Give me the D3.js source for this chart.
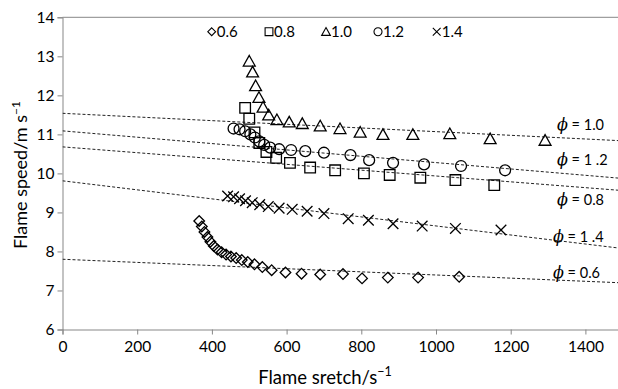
<!DOCTYPE html>
<html>
<head>
<meta charset="utf-8">
<script src="https://cdn.jsdelivr.net/npm/d3@7"></script>
<style>
  body { margin: 0; background: #fff; }
  text { font-family: Lato, "Open Sans", sans-serif; fill: #000; }
</style>
</head>
<body>
<script>
// equivalence ratios, one series each
const phi = ["0.6", "0.8", "1.0", "1.2", "1.4"]
const shapes = ["diamond", "square", "triangle", "circle", "cross"]

// flame stretch (1/s) and flame speed (m/s)
const stretch06 = [366, 373, 380, 388, 396, 405, 415, 426, 438, 451, 465, 480, 496, 514, 535, 560, 597, 640, 690, 751, 802, 871, 952, 1062]
const speed06 = [8.78, 8.64, 8.50, 8.37, 8.25, 8.14, 8.05, 7.98, 7.92, 7.87, 7.83, 7.78, 7.73, 7.67, 7.60, 7.52, 7.46, 7.43, 7.41, 7.42, 7.31, 7.33, 7.33, 7.35]

const stretch08 = [489, 500, 514, 527, 546, 572, 609, 663, 730, 807, 876, 958, 1052, 1156]
const speed08 = [11.68, 11.40, 11.05, 10.78, 10.55, 10.40, 10.27, 10.15, 10.08, 10.00, 9.96, 9.89, 9.83, 9.70]

const stretch10 = [500, 509, 517, 526, 537, 552, 574, 607, 642, 690, 743, 797, 858, 938, 1037, 1145, 1292]
const speed10 = [12.88, 12.60, 12.25, 11.95, 11.70, 11.50, 11.38, 11.32, 11.28, 11.22, 11.15, 11.06, 11.00, 11.00, 11.02, 10.89, 10.85]

const stretch12 = [458, 474, 489, 503, 515, 527, 540, 556, 580, 612, 650, 700, 771, 821, 885, 968, 1067, 1185]
const speed12 = [11.15, 11.13, 11.08, 11.00, 10.92, 10.82, 10.73, 10.66, 10.62, 10.60, 10.57, 10.53, 10.47, 10.34, 10.27, 10.23, 10.19, 10.08]

const stretch14 = [442, 458, 474, 490, 508, 528, 551, 580, 615, 655, 700, 765, 819, 885, 963, 1052, 1174]
const speed14 = [9.42, 9.40, 9.35, 9.30, 9.25, 9.20, 9.15, 9.11, 9.08, 9.03, 8.97, 8.84, 8.80, 8.71, 8.65, 8.59, 8.55]

// dashed linear fits: speed at stretch 0 and at stretch 1500
const trendStart = [7.80, 10.68, 11.54, 11.09, 9.81]
const trendEnd = [7.195, 9.56, 10.835, 9.87, 8.075]
const phiLabels = ["0.6", "0.8", "1.0", "1 .2", "1 .4"]

const xTicks = [0, 200, 400, 600, 800, 1000, 1200, 1400]
const yTicks = [6, 7, 8, 9, 10, 11, 12, 13, 14]

const stretch = [stretch06, stretch08, stretch10, stretch12, stretch14]
const speed = [speed06, speed08, speed10, speed12, speed14]

const width = 618
const height = 389
const margin = { left: 62.5, top: 17.3, bottom: 59.5 }
const axisColor = "#878787"

const x = d3.scaleLinear().domain([0, 1500]).range([margin.left, margin.left + 1500 * 0.3735])
const y = d3.scaleLinear().domain([6, 14]).range([height - margin.bottom, margin.top])

function marker(type, s) {
  switch (type) {
    case "diamond": return `M0,${-s}L${s},0L0,${s}L${-s},0Z`
    case "square": return `M${-s},${-s}H${s}V${s}H${-s}Z`
    case "triangle": return `M0,${-s * 1.05}L${s * 1.12},${s * 0.95}L${-s * 1.12},${s * 0.95}Z`
    case "circle": return d3.arc()({ innerRadius: 0, outerRadius: s * 1.03, startAngle: 0, endAngle: 2 * Math.PI })
    case "cross": return `M${-s},${-s}L${s},${s}M${s},${-s}L${-s},${s}`
  }
}

const svg = d3.select("body").append("svg")
  .attr("width", width)
  .attr("height", height)

svg.append("defs").append("clipPath").attr("id", "plot")
  .append("rect")
  .attr("x", x(0)).attr("y", y(14))
  .attr("width", x(1500) - x(0)).attr("height", y(6) - y(14))

// plot frame top edge
svg.append("line")
  .attr("x1", x(0)).attr("x2", width)
  .attr("y1", y(14)).attr("y2", y(14))
  .attr("stroke", axisColor)

const yAxis = svg.append("g")
  .attr("transform", `translate(${x(0)},0)`)
  .call(d3.axisLeft(y).tickValues(yTicks).tickSize(5).tickPadding(3))
yAxis.select(".domain").attr("stroke", axisColor)
yAxis.selectAll(".tick line").attr("stroke", axisColor)
yAxis.selectAll(".tick text").attr("font-size", 15.5).attr("font-family", "Lato").attr("fill", "#000")

const xAxis = svg.append("g")
  .attr("transform", `translate(0,${y(6)})`)
  .call(d3.axisBottom(x).tickValues(xTicks).tickFormat(d3.format("d")).tickSize(5).tickPadding(6))
xAxis.select(".domain").attr("stroke", axisColor)
xAxis.selectAll(".tick line").attr("stroke", axisColor)
xAxis.selectAll(".tick text").attr("font-size", 15.5).attr("font-family", "Lato").attr("fill", "#000")

// trend lines
const trendLine = d3.line().x(d => x(d[0])).y(d => y(d[1]))
svg.append("g").attr("clip-path", "url(#plot)")
  .selectAll("path")
  .data(phi.map((p, i) => [[0, trendStart[i]], [1500, trendEnd[i]]]))
  .join("path")
  .attr("d", trendLine)
  .attr("fill", "none")
  .attr("stroke", "#222")
  .attr("stroke-width", 1)
  .attr("stroke-dasharray", "3,2")

// markers
phi.forEach((p, i) => {
  svg.append("g")
    .selectAll("path")
    .data(stretch[i].map((s, j) => [s, speed[i][j]]))
    .join("path")
    .attr("transform", d => `translate(${x(d[0])},${y(d[1])})`)
    .attr("d", marker(shapes[i], 5.3))
    .attr("fill", "none")
    .attr("stroke", "#000")
    .attr("stroke-width", 1.3)
})

// legend
const legendX = [211.7, 269, 326, 378, 436.7]
const legend = svg.append("g").attr("transform", "translate(0,31.7)")
phi.forEach((p, i) => {
  legend.append("path")
    .attr("transform", `translate(${legendX[i]},0)`)
    .attr("d", marker(shapes[i], 3.9))
    .attr("fill", "none")
    .attr("stroke", "#000")
    .attr("stroke-width", 1.1)
  legend.append("text")
    .attr("x", legendX[i] + 5)
    .attr("y", 5.5)
    .attr("font-size", 15)
    .text(p)
})

// phi annotations next to the fits
const labelPos = [[553, 278], [557, 205], [557, 130], [557, 165], [553, 241.5]]
phi.forEach((p, i) => {
  const t = svg.append("text")
    .attr("x", labelPos[i][0])
    .attr("y", labelPos[i][1])
    .attr("font-size", 14.5)
  t.append("tspan")
    .attr("font-family", "DejaVu Serif")
    .attr("font-style", "italic")
    .attr("font-size", 16)
    .text("\u03d5")
  t.append("tspan").text(" = " + phiLabels[i])
})

// axis titles
const yTitle = svg.append("text")
  .attr("transform", "translate(27,175) rotate(-90)")
  .attr("text-anchor", "middle")
  .attr("font-size", 18)
yTitle.append("tspan").text("Flame speed/m s")
yTitle.append("tspan").attr("dy", -7.5).attr("font-size", 12).text("\u22121")

const xTitle = svg.append("text")
  .attr("x", 325)
  .attr("y", 384)
  .attr("text-anchor", "middle")
  .attr("font-size", 18.5)
xTitle.append("tspan").text("Flame sretch/s")
xTitle.append("tspan").attr("dy", -8).attr("font-size", 12.5).text("\u22121")
</script>
</body>
</html>
